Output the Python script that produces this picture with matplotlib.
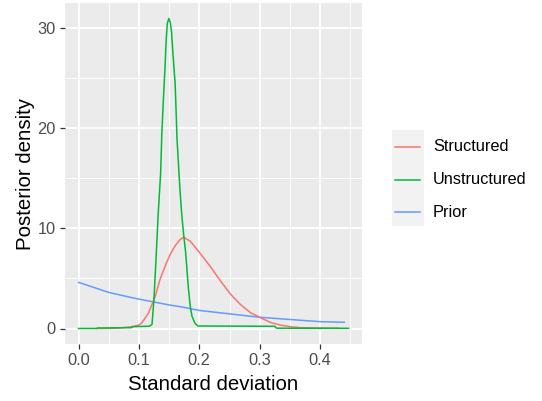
import matplotlib
matplotlib.use("Agg")
import matplotlib.pyplot as plt
from matplotlib.lines import Line2D
from matplotlib.patches import Rectangle

# values
prior_x = [0.0, 0.02, 0.05, 0.09, 0.12, 0.15, 0.17, 0.2, 0.25, 0.3, 0.35, 0.4, 0.44]
prior_y = [4.6, 4.2, 3.6, 3.05, 2.7, 2.35, 2.16, 1.8, 1.46, 1.12, 0.9, 0.68, 0.62]

struct_x = [0.03, 0.06, 0.088, 0.1, 0.105, 0.116, 0.127, 0.135, 0.146, 0.152,
            0.16, 0.168, 0.174, 0.185, 0.2, 0.218, 0.235, 0.252, 0.268, 0.285,
            0.302, 0.318, 0.335, 0.352, 0.368, 0.4, 0.43]
struct_y = [0.0, 0.02, 0.17, 0.35, 0.57, 1.56, 3.2, 4.9, 6.6, 7.4,
            8.25, 8.85, 9.1, 8.7, 7.6, 6.2, 4.75, 3.4, 2.4, 1.56,
            1.06, 0.6, 0.33, 0.17, 0.08, 0.04, 0.02]

unstruct_x = [0.0, 0.03, 0.031, 0.088, 0.089, 0.117, 0.1217, 0.125, 0.128, 0.132,
              0.136, 0.138, 0.1405, 0.1433, 0.145, 0.147, 0.1495, 0.152, 0.154, 0.156,
              0.16, 0.1617, 0.163, 0.1655, 0.168, 0.171, 0.174, 0.1775, 0.18, 0.182,
              0.185, 0.188, 0.193, 0.198, 0.325, 0.328, 0.447]
unstruct_y = [0.0, 0.0, 0.05, 0.08, 0.18, 0.23, 0.4, 3.0, 6.5, 11.5,
              15.5, 19.5, 22.8, 26.1, 28.6, 30.4, 30.9, 30.5, 29.6, 27.7,
              24.4, 21.5, 19.0, 16.4, 13.8, 11.3, 9.4, 7.5, 5.5, 4.0,
              2.2, 1.2, 0.5, 0.25, 0.22, 0.03, 0.02]

series_names = ["Structured", "Unstructured", "Prior"]
series_colors = ["#F8766D", "#00BA38", "#619CFF"]

W, H = 542, 401
plt.rcParams["font.family"] = ["Liberation Sans", "DejaVu Sans"]

fig = plt.figure(figsize=(W / 100, H / 100), dpi=100)
ax = fig.add_axes([65 / W, 1 - 344 / H, (362 - 65) / W, (344 - 3) / H])
ax.set_facecolor("#EBEBEB")
for s in ax.spines.values():
    s.set_visible(False)

ax.plot(prior_x, prior_y, color=series_colors[2], lw=1.1)
ax.plot(struct_x, struct_y, color=series_colors[0], lw=1.1)
ax.plot(unstruct_x, unstruct_y, color=series_colors[1], lw=1.1)

# ggplot style 5% expansion
xs = prior_x + struct_x + unstruct_x
ys = prior_y + struct_y + unstruct_y
dx = (max(xs) - min(xs)) * 0.05
dy = (max(ys) - min(ys)) * 0.05
ax.set_xlim(min(xs) - dx, max(xs) + dx)
ax.set_ylim(min(ys) - dy, max(ys) + dy)

ax.set_xticks([0.0, 0.1, 0.2, 0.3, 0.4])
ax.set_xticklabels(["0.0", "0.1", "0.2", "0.3", "0.4"])
ax.set_yticks([0, 10, 20, 30])
ax.set_xticks([0.05, 0.15, 0.25, 0.35, 0.45], minor=True)
ax.set_yticks([5, 15, 25], minor=True)
ax.grid(which="major", color="white", lw=1.3)
ax.grid(which="minor", color="white", lw=0.65)
ax.set_axisbelow(True)
ax.tick_params(which="major", length=3.5, width=0.9, color="#333333",
               labelsize=11.8, labelcolor="#4D4D4D", pad=3)
ax.tick_params(which="minor", length=0)

ax.set_xlabel("Standard deviation", fontsize=14.7, labelpad=5)
ax.set_ylabel("Posterior density", fontsize=14.7, labelpad=2)

# legend drawn ggplot-like: grey key column, text to the right
def fx(p):
    return p / W

def fy(p):
    return 1 - p / H

fig.add_artist(Rectangle((fx(391.5), fy(226)), fx(32), 96 / H,
                         transform=fig.transFigure, facecolor="#F2F2F2",
                         edgecolor="none"))
key_y = [147, 180, 212]
for name, col, yk in zip(series_names, series_colors, key_y):
    fig.add_artist(Line2D([fx(394.5), fx(420)], [fy(yk), fy(yk)],
                          transform=fig.transFigure, color=col, lw=1.1))
    fig.text(fx(433), fy(yk), name, fontsize=11.8, va="center", ha="left")

fig.savefig("out.png", dpi=100)
